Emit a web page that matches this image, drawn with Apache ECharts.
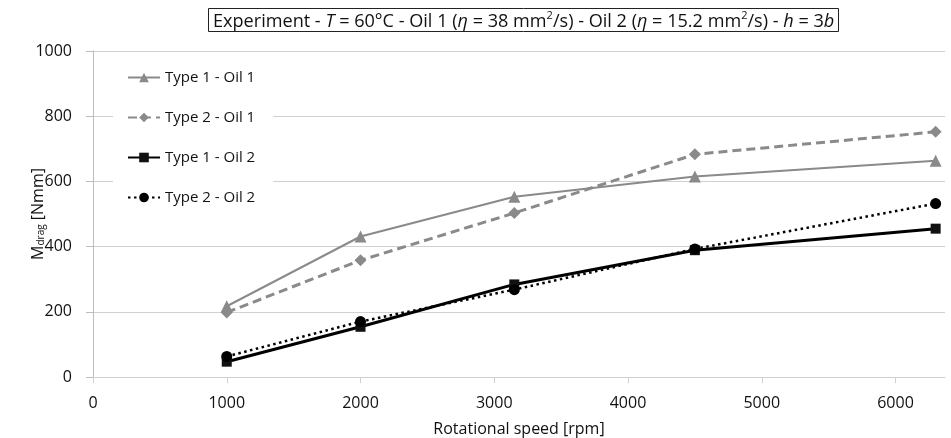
<!DOCTYPE html>
<html>
<head>
<meta charset="utf-8">
<script src="https://cdn.jsdelivr.net/npm/echarts@6/dist/echarts.min.js"></script>
<style>html,body{margin:0;padding:0;background:#fff}#c{width:951px;height:438px}</style>
</head>
<body>
<div id="c"></div>
<script>
const xTicks = [0, 1000, 2000, 3000, 4000, 5000, 6000];
const yTicks = [0, 200, 400, 600, 800, 1000];
const speeds = [1000, 2000, 3150, 4500, 6300];
const type1Oil1 = [217, 431, 553, 615, 663];
const type2Oil1 = [198, 358, 503, 683, 752];
const type1Oil2 = [47, 154, 284, 389, 455];
const type2Oil2 = [63, 170, 268, 393, 532];
const seriesNames = ['Type 1 - Oil 1', 'Type 2 - Oil 1', 'Type 1 - Oil 2', 'Type 2 - Oil 2'];

const FONT = 'Open Sans';
const GRAY = '#8a8a8a';
const pair = arr => speeds.map((s, i) => [s, arr[i]]);

const chart = echarts.init(document.getElementById('c'), null, {renderer: 'canvas'});
chart.setOption({
  animation: false,
  backgroundColor: '#fff',
  textStyle: {fontFamily: FONT, color: '#111'},
  title: {
    left: 208, top: 8,
    borderColor: '#222', borderWidth: 1,
    padding: [2, 5, 1, 5],
    text: '{n|Experiment - }{i|T}{n| = 60°C - Oil 1 (}{i|η}{n| = 38 mm}{s|2}{n|/s) - Oil 2 (}{i|η}{n| = 15.2 mm}{s|2}{n|/s) - }{i|h}{n| = 3}{i|b}',
    textStyle: {
      fontWeight: 'normal',
      rich: {
        n: {fontFamily: FONT, fontSize: 18.1, lineHeight: 23, fontWeight: 'normal', color: '#111'},
        i: {fontFamily: FONT, fontSize: 18.1, lineHeight: 23, fontWeight: 'normal', fontStyle: 'italic', color: '#111'},
        s: {fontFamily: FONT, fontSize: 11, lineHeight: 23, fontWeight: 'normal', color: '#111', verticalAlign: 'top', padding: [0, 0, 8, 0]}
      }
    }
  },
  legend: {
    orient: 'vertical',
    left: 113, top: 64,
    padding: [6, 18, 6, 14],
    backgroundColor: '#fff',
    itemWidth: 32, itemHeight: 12, itemGap: 25,
    textStyle: {fontFamily: FONT, fontSize: 15, color: '#111'},
    data: seriesNames
  },
  grid: {left: 93, right: 6, top: 51, bottom: 61, containLabel: false, outerBoundsMode: 'none'},
  xAxis: {
    type: 'value', min: 0, max: 6370, interval: 1000,
    name: 'Rotational speed [rpm]', nameLocation: 'middle', nameGap: 44, nameMoveOverlap: false,
    nameTextStyle: {fontFamily: FONT, fontSize: 16, color: '#111'},
    axisLine: {show: true, lineStyle: {color: '#d0d0d0', width: 1}},
    axisTick: {show: true, length: 6, lineStyle: {color: '#d0d0d0'}, customValues: xTicks},
    axisLabel: {margin: 18, fontFamily: FONT, fontSize: 16, color: '#111', customValues: xTicks,
                formatter: v => String(v)},
    splitLine: {show: false}
  },
  yAxis: {
    type: 'value', min: 0, max: 1000, interval: 200,
    name: '{n|M}{s|drag}{n| [Nmm]}', nameLocation: 'middle', nameGap: 47, nameRotate: 90, nameMoveOverlap: false,
    nameTextStyle: {
      rich: {
        n: {fontFamily: FONT, fontSize: 16, color: '#111'},
        s: {fontFamily: FONT, fontSize: 10, color: '#111', verticalAlign: 'bottom', padding: [6, 0, 0, 0]}
      }
    },
    axisLine: {show: true, lineStyle: {color: '#bdbdbd', width: 1}},
    axisTick: {show: true, length: 7, lineStyle: {color: '#bdbdbd'}},
    axisLabel: {margin: 21, fontFamily: FONT, fontSize: 16, color: '#111', formatter: v => String(v)},
    splitLine: {show: true, lineStyle: {color: '#d0d0d0', width: 1}}
  },
  series: [
    {name: seriesNames[0], type: 'line', data: pair(type1Oil1), symbol: 'triangle', symbolSize: 12,
     lineStyle: {color: GRAY, width: 2}, itemStyle: {color: GRAY}, z: 3},
    {name: seriesNames[1], type: 'line', data: pair(type2Oil1), symbol: 'diamond', symbolSize: 12,
     lineStyle: {color: GRAY, width: 3, type: [9, 5]}, itemStyle: {color: GRAY}, z: 3},
    {name: seriesNames[2], type: 'line', data: pair(type1Oil2), symbol: 'rect', symbolSize: 10,
     lineStyle: {color: '#000', width: 3}, itemStyle: {color: '#111'}, z: 4},
    {name: seriesNames[3], type: 'line', data: pair(type2Oil2), symbol: 'circle', symbolSize: 11,
     lineStyle: {color: '#000', width: 2.5, type: [2.5, 3.5]}, itemStyle: {color: '#000'}, z: 5}
  ]
});
</script>
</body>
</html>
